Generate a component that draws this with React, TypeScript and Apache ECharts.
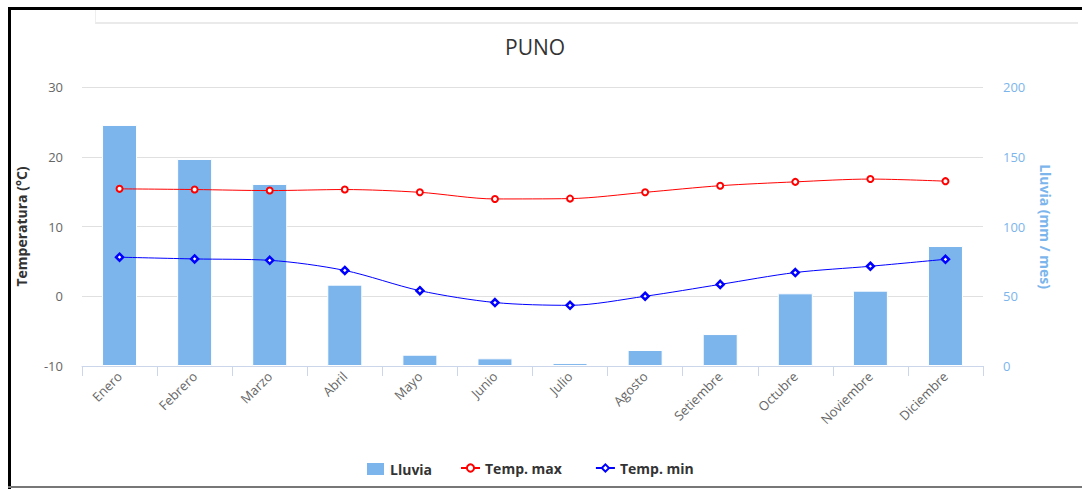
import React, { useEffect, useRef } from "react";
import * as echarts from "echarts";

const months = ["Enero", "Febrero", "Marzo", "Abril", "Mayo", "Junio", "Julio", "Agosto", "Setiembre", "Octubre", "Noviembre", "Diciembre"];
const lluvia = [172.8, 148.4, 130.5, 58.3, 8.1, 5.5, 2.1, 11.5, 22.9, 52.1, 54.0, 86.0];
const tempMax = [15.4, 15.3, 15.15, 15.3, 14.9, 13.95, 14.0, 14.9, 15.85, 16.4, 16.8, 16.5];
const tempMin = [5.6, 5.35, 5.15, 3.7, 0.8, -0.9, -1.3, 0.0, 1.7, 3.4, 4.3, 5.3];

const FONT = "'Open Sans', 'Noto Sans', sans-serif";
const legendText = { fontFamily: FONT, fontSize: 14, fontWeight: "bold", color: "#333333" };

export default function App() {
  const ref = useRef<HTMLDivElement>(null);
  useEffect(() => {
    if (!ref.current) return;
    const chart = echarts.init(ref.current, null, { renderer: "svg" });
    chart.setOption({
      animation: false,
      backgroundColor: "#ffffff",
      textStyle: { fontFamily: FONT },
      title: {
        text: "PUNO",
        left: 500,
        top: 31,
        textStyle: { fontFamily: FONT, fontSize: 21, fontWeight: "normal", color: "#333333" },
      },
      grid: { left: 82, right: 99, top: 87, bottom: 123, containLabel: false },
      legend: [
        {
          top: 456,
          left: 360,
          itemWidth: 19,
          itemHeight: 14,
          textStyle: legendText,
          data: [{ name: "Lluvia", icon: "rect" }],
        },
        {
          top: 456,
          left: 455,
          itemWidth: 19,
          itemHeight: 9,
          itemGap: 33,
          textStyle: legendText,
          data: [{ name: "Temp. max" }, { name: "Temp. min" }],
        },
      ],
      xAxis: {
        type: "category",
        data: months,
        boundaryGap: true,
        axisLine: { onZero: false, lineStyle: { color: "#ccd6eb", width: 1 } },
        axisTick: { show: true, length: 10, alignWithLabel: false, lineStyle: { color: "#ccd6eb" } },
        axisLabel: { rotate: 45, color: "#666666", fontSize: 13, margin: 8, fontFamily: FONT },
      },
      yAxis: [
        {
          type: "value",
          min: -10,
          max: 30,
          interval: 10,
          name: "Temperatura (°C)",
          nameLocation: "middle",
          nameGap: 54,
          nameRotate: 90,
          nameTextStyle: { fontFamily: FONT, fontSize: 14, fontWeight: "bold", color: "#333333" },
          axisLine: { show: false },
          axisTick: { show: false },
          axisLabel: { color: "#666666", fontSize: 13, margin: 19, fontFamily: FONT },
          splitLine: { lineStyle: { color: "#e0e0e0", width: 1 } },
        },
        {
          type: "value",
          min: 0,
          max: 200,
          interval: 50,
          position: "right",
          name: "Lluvia (mm / mes)",
          nameLocation: "middle",
          nameGap: 55,
          nameRotate: -90,
          nameTextStyle: { fontFamily: FONT, fontSize: 14, fontWeight: "bold", color: "#7cb5ec" },
          axisLine: { show: false },
          axisTick: { show: false },
          axisLabel: { color: "#7cb5ec", fontSize: 13, margin: 20, fontFamily: FONT },
          splitLine: { show: false },
        },
      ],
      series: [
        {
          name: "Lluvia",
          type: "bar",
          yAxisIndex: 1,
          data: lluvia,
          barWidth: 35,
          itemStyle: { color: "#7cb5ec", borderColor: "#ffffff", borderWidth: 1 },
        },
        {
          name: "Temp. max",
          type: "line",
          yAxisIndex: 0,
          data: tempMax,
          smooth: 0.3,
          symbol: "circle",
          symbolSize: 6,
          showAllSymbol: true,
          lineStyle: { color: "#ff0000", width: 1 },
          itemStyle: { color: "#ffffff", borderColor: "#ff0000", borderWidth: 2 },
        },
        {
          name: "Temp. min",
          type: "line",
          yAxisIndex: 0,
          data: tempMin,
          smooth: 0.3,
          symbol: "diamond",
          symbolSize: 7,
          showAllSymbol: true,
          lineStyle: { color: "#0000ff", width: 1 },
          itemStyle: { color: "#ffffff", borderColor: "#0000ff", borderWidth: 2.5 },
        },
      ],
    });
    return () => chart.dispose();
  }, []);

  return (
    <div style={{ position: "fixed", left: 0, top: 0, width: 1082, height: 489, background: "#fff", overflow: "hidden" }}>
      <div ref={ref} style={{ position: "absolute", left: 0, top: 0, width: 1082, height: 489 }} />
      <div style={{ position: "absolute", left: 95, top: 9, width: 982, height: 13, borderLeft: "1px solid #eeeeee", borderBottom: "2px solid #eaeaea" }} />
      <div style={{ position: "absolute", left: 9, top: 7, width: 1073, height: 3, background: "#000" }} />
      <div style={{ position: "absolute", left: 8, top: 7, width: 3, height: 482, background: "#000" }} />
      <div style={{ position: "absolute", left: 8, top: 486, width: 1074, height: 2, background: "#777" }} />
    </div>
  );
}
